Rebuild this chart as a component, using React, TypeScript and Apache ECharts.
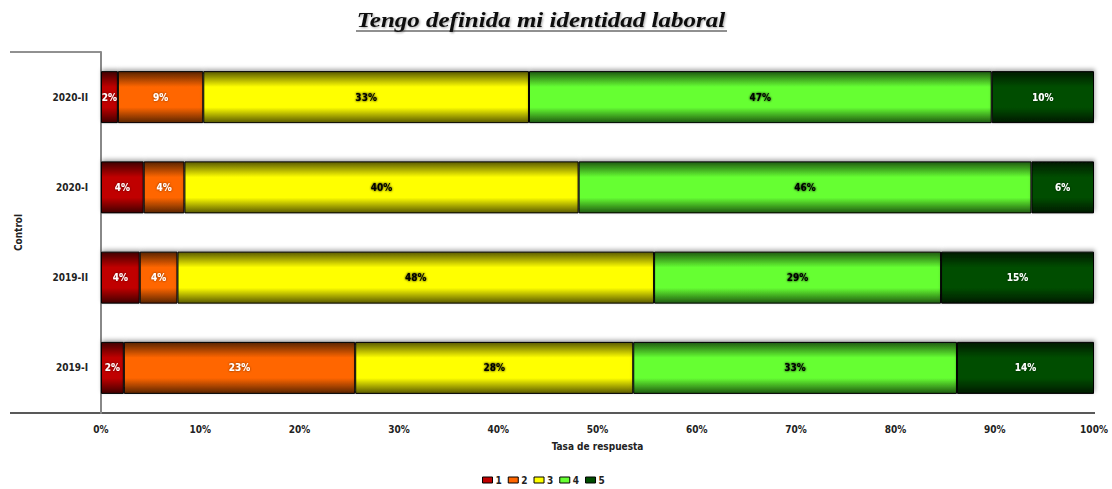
import React, { useEffect, useRef } from "react";
import * as echarts from "echarts";

// Response periods, bottom to top
const periods = ["2019-I", "2019-II", "2020-I", "2020-II"];

// Share of answers (%) per level, in the same order as periods
const level1 = [2.3, 3.9, 4.3, 1.7];
const level2 = [23.3, 3.8, 4.1, 8.6];
const level3 = [28.0, 48.0, 39.7, 32.8];
const level4 = [32.6, 28.9, 45.6, 46.6];
const level5 = [13.8, 15.4, 6.3, 10.3];

const levelNames = ["1", "2", "3", "4", "5"];
const levelColors = ["#C00000", "#FF6600", "#FFFF00", "#66FF33", "#004D00"];
const levelDark = ["#400000", "#5a2400", "#5a5a00", "#1f5a10", "#001a00"];
const labelColors = ["#ffffff", "#ffffff", "#000000", "#000000", "#ffffff"];

const xTicks = [0, 10, 20, 30, 40, 50, 60, 70, 80, 90, 100];

const LABEL_FONT = "'DejaVu Sans Condensed', 'DejaVu Sans', sans-serif";

export default function App() {
  const ref = useRef<HTMLDivElement>(null);

  useEffect(() => {
    document.body.style.margin = "0";
    if (!ref.current) return;
    const chart = echarts.init(ref.current, undefined, { renderer: "svg" });
    const levels = [level1, level2, level3, level4, level5];

    const series = levels.map((vals, i) => ({
      name: levelNames[i],
      type: "bar",
      stack: "total",
      barWidth: 52,
      data: vals,
      itemStyle: {
        color: new echarts.graphic.LinearGradient(0, 0, 0, 1, [
          { offset: 0, color: levelDark[i] },
          { offset: 0.3, color: levelColors[i] },
          { offset: 0.7, color: levelColors[i] },
          { offset: 1, color: levelDark[i] },
        ]),
        borderColor: "#000",
        borderWidth: 1,
        shadowColor: "rgba(0,0,0,0.35)",
        shadowBlur: 4,
        shadowOffsetX: 1,
        shadowOffsetY: -2,
      },
      label: {
        show: true,
        position: "inside",
        formatter: (p: any) => Math.round(p.value) + "%",
        color: labelColors[i],
        fontFamily: LABEL_FONT,
        fontWeight: "bold",
        fontSize: 10,
        textShadowColor: i === 2 || i === 3 ? "transparent" : "rgba(0,0,0,0.6)",
        textShadowBlur: 2,
      },
    }));

    chart.setOption({
      animation: false,
      backgroundColor: "#ffffff",
      legend: {
        top: 475,
        left: 482,
        padding: 0,
        icon: "rect",
        itemWidth: 10,
        itemHeight: 6,
        itemGap: 6,
        data: levelNames.map((n, i) => ({
          name: n,
          itemStyle: { color: levelColors[i], borderColor: "#000", borderWidth: 1 },
        })),
        textStyle: {
          fontFamily: LABEL_FONT,
          fontWeight: "bold",
          fontSize: 10,
          color: "#222",
          padding: [0, 0, 0, -2],
        },
      },
      grid: { left: 101, right: 18, top: 52, bottom: 76 },
      xAxis: {
        type: "value",
        min: 0,
        max: 100,
        interval: 10,
        name: "Tasa de respuesta",
        nameLocation: "middle",
        nameGap: 28,
        nameTextStyle: {
          fontFamily: LABEL_FONT,
          fontWeight: "bold",
          fontSize: 10,
          color: "#222",
        },
        axisLine: { show: false },
        axisTick: { show: false },
        splitLine: { show: false },
        axisLabel: {
          formatter: (v: number) => (xTicks.includes(v) ? v + "%" : ""),
          fontFamily: LABEL_FONT,
          fontWeight: "bold",
          fontSize: 10,
          color: "#222",
          margin: 11,
        },
      },
      yAxis: {
        type: "category",
        data: periods,
        name: "Control",
        nameLocation: "middle",
        nameGap: 78,
        nameTextStyle: {
          fontFamily: LABEL_FONT,
          fontWeight: "bold",
          fontSize: 10,
          color: "#222",
        },
        axisLine: { show: true, lineStyle: { color: "#888", width: 2 } },
        axisTick: { show: false },
        axisLabel: {
          fontFamily: LABEL_FONT,
          fontWeight: "bold",
          fontSize: 10,
          color: "#222",
          margin: 13,
        },
      },
      graphic: [
        {
          type: "text",
          x: 541,
          y: 20,
          scaleX: 1.25,
          style: {
            text: "Tengo definida mi identidad laboral",
            x: 0,
            y: 0,
            align: "center",
            verticalAlign: "middle",
            fontFamily: "'Liberation Serif', 'DejaVu Serif', serif",
            fontStyle: "italic",
            fontWeight: "bold",
            fontSize: 20,
            fill: "#111",
            textShadowColor: "rgba(0,0,0,0.35)",
            textShadowBlur: 2,
            textShadowOffsetX: 1,
            textShadowOffsetY: 1,
          },
        },
        {
          type: "line",
          shape: { x1: 356, y1: 31, x2: 727, y2: 31 },
          style: { stroke: "#222", lineWidth: 1.2 },
        },
        {
          type: "line",
          shape: { x1: 10, y1: 52, x2: 101, y2: 52 },
          style: { stroke: "#222", lineWidth: 1 },
        },
        {
          type: "line",
          shape: { x1: 10, y1: 413, x2: 1095, y2: 413 },
          style: { stroke: "#222", lineWidth: 1.5 },
        },
      ],
      series,
    });

    return () => chart.dispose();
  }, []);

  return <div ref={ref} style={{ width: 1112, height: 489 }} />;
}
